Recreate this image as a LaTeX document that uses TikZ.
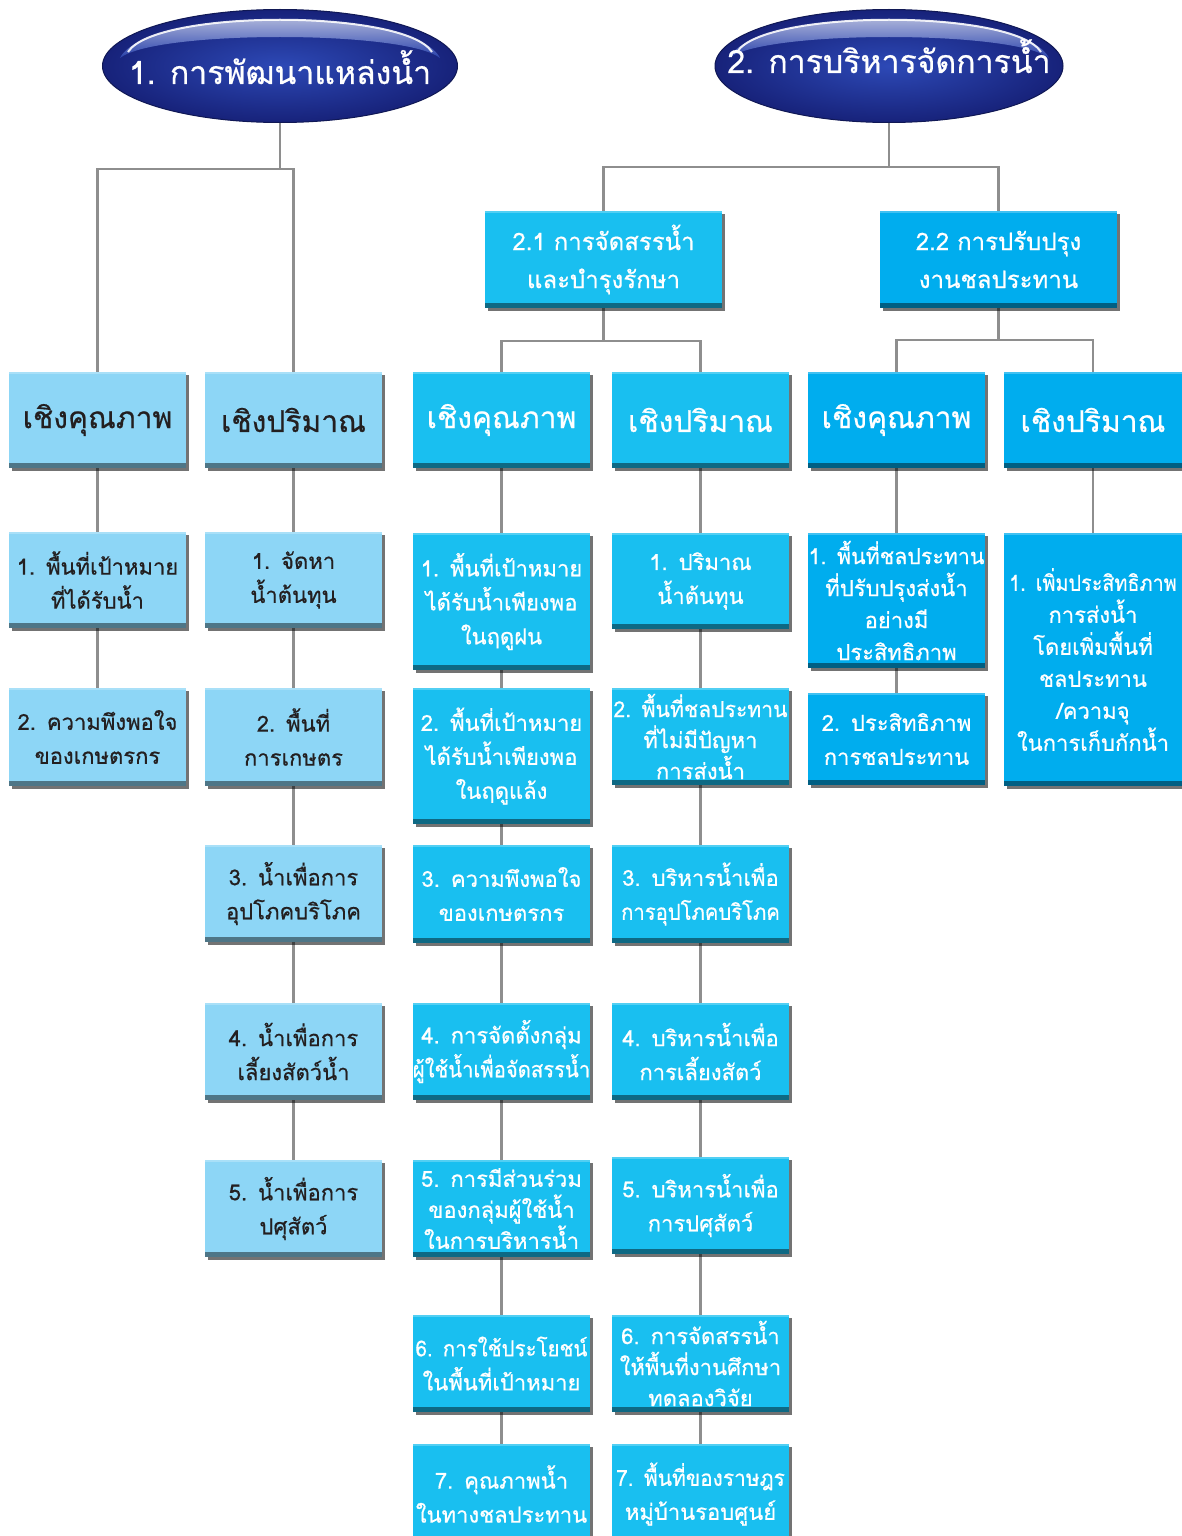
\documentclass[tikz,border=0pt]{standalone}
\usepackage{fontspec}
\newfontfamily\thaifont[Script=Thai,FakeBold=0.6]{Loma}
\usetikzlibrary{shadows,shapes.geometric}
\definecolor{lb}{HTML}{8DD6F6}
\definecolor{mb}{HTML}{19BFF0}
\definecolor{db}{HTML}{00ADEE}
\definecolor{ln}{HTML}{8E8E8E}
\definecolor{dtx}{HTML}{231F20}
\definecolor{ellin}{HTML}{2D49B6}
\definecolor{ellout}{HTML}{17227A}
\newcommand\sq[2]{\makebox[\linewidth][c]{\scalebox{#1}[1]{#2}}}
\pgfdeclarelayer{back}
\pgfsetlayers{back,main}
\tikzset{
  conn/.style={draw=ln, line width=2.6pt},
  box/.style={anchor=north west, inner sep=0pt, outer sep=0pt, align=center,
    drop shadow={shadow xshift=3pt, shadow yshift=-3pt, opacity=.55, fill=black},
    font=\thaifont\fontsize{22}{34}\selectfont},
  bevel/.style={path picture={
    \fill[#1] ([yshift=5pt]path picture bounding box.south west) rectangle (path picture bounding box.south east);
    \fill[white,opacity=.25] (path picture bounding box.north west) rectangle ([yshift=-2pt]path picture bounding box.north east);}},
  lbox/.style={box, fill=lb, text=dtx, bevel=lb!55!black},
  mbox/.style={box, fill=mb, text=white, bevel=mb!55!black},
  dbox/.style={box, fill=db, text=white, bevel=db!55!black},
  cat/.style={font=\thaifont\fontsize{30}{36}\selectfont, minimum width=177pt, text width=177pt, minimum height=96pt},
  ch/.style={minimum width=177pt, text width=177pt},
  tight/.style={font=\thaifont\fontsize{22}{31}\selectfont},
  big/.style={ellipse, inner sep=0pt, draw=ellout!70!black, line width=1pt,
    inner color=ellin, outer color=ellout, text=white,
    font=\thaifont\fontsize{32}{36}\selectfont,
    path picture={\begin{scope}[shift={(path picture bounding box.center)}]
      \shade[top color=white, bottom color=ellin, opacity=.8]
        (-160,-8) .. controls (-135,-59) and (135,-59) .. (160,-8)
        .. controls (125,-36) and (-125,-36) .. (-160,-8) -- cycle;
      \draw[white, line width=2pt, opacity=.9]
        (-152,-14) .. controls (-125,-57) and (125,-57) .. (152,-14);
    \end{scope}}},
}
\begin{document}
\begin{tikzpicture}[x=1pt,y=-1pt]
\useasboundingbox (0,0) rectangle (1182,1536);
\clip (0,0) rectangle (1182,1536);

% top ellipses
\node[big, minimum width=355pt, minimum height=113pt] (e1) at (280,66) {\makebox[0pt]{\raisebox{-18pt}[0pt][0pt]{1. การพัฒนาแหล่งน้ำ}}};
\node[big, minimum width=348pt, minimum height=113pt] (e2) at (889,66) {\makebox[0pt]{\raisebox{-7pt}[0pt][0pt]{2. การบริหารจัดการน้ำ}}};

% level 2 boxes
\node[mbox, minimum width=237pt, text width=237pt, minimum height=97pt, font=\thaifont\fontsize{24}{38}\selectfont] (b21) at (485,211) {2.1 การจัดสรรน้ำ\\และบำรุงรักษา};
\node[dbox, minimum width=237pt, text width=237pt, minimum height=97pt, font=\thaifont\fontsize{24}{38}\selectfont] (b22) at (880,211) {2.2 การปรับปรุง\\งานชลประทาน};

% category boxes
\node[lbox, cat] (l1) at (9,372) {เชิงคุณภาพ};
\node[lbox, cat] (l2) at (205,372) {เชิงปริมาณ};
\node[mbox, cat] (m1) at (413,372) {เชิงคุณภาพ};
\node[mbox, cat] (m2) at (612,372) {เชิงปริมาณ};
\node[dbox, cat] (r1) at (808,372) {เชิงคุณภาพ};
\node[dbox, cat, minimum width=178pt, text width=178pt] (r2) at (1004,372) {เชิงปริมาณ};

% column L1
\node[lbox, ch, minimum height=96pt] (l1a) at (9,532) {1. พื้นที่เป้าหมาย\\ที่ได้รับน้ำ};
\node[lbox, ch, minimum height=98pt] (l1b) at (9,688) {2. ความพึงพอใจ\\ของเกษตรกร};

% column L2
\node[lbox, ch, minimum height=96pt] (l2a) at (205,532) {1. จัดหา\\น้ำต้นทุน};
\node[lbox, ch, minimum height=98pt] (l2b) at (205,688) {2. พื้นที่\\การเกษตร};
\node[lbox, ch, minimum height=97pt] (l2c) at (205,845) {3. น้ำเพื่อการ\\อุปโภคบริโภค};
\node[lbox, ch, minimum height=97pt] (l2d) at (205,1003) {4. น้ำเพื่อการ\\เลี้ยงสัตว์น้ำ};
\node[lbox, ch, minimum height=97pt] (l2e) at (205,1160) {5. น้ำเพื่อการ\\ปศุสัตว์};

% column M1
\node[mbox, ch, minimum height=137pt] (m1a) at (413,533) {1. พื้นที่เป้าหมาย\\ได้รับน้ำเพียงพอ\\ในฤดูฝน};
\node[mbox, ch, minimum height=136pt] (m1b) at (413,688) {2. พื้นที่เป้าหมาย\\ได้รับน้ำเพียงพอ\\ในฤดูแล้ง};
\node[mbox, ch, minimum height=98pt] (m1c) at (413,845) {3. ความพึงพอใจ\\ของเกษตรกร};
\node[mbox, ch, minimum height=97pt] (m1d) at (413,1003) {4. การจัดตั้งกลุ่ม\\\sq{0.92}{ผู้ใช้น้ำเพื่อจัดสรรน้ำ}};
\node[mbox, ch, tight, minimum height=97pt] (m1e) at (413,1160) {5. การมีส่วนร่วม\\ของกลุ่มผู้ใช้น้ำ\\ในการบริหารน้ำ};
\node[mbox, ch, minimum height=97pt] (m1f) at (413,1315) {\sq{0.93}{6. การใช้ประโยชน์}\\ในพื้นที่เป้าหมาย};
\node[mbox, ch, minimum height=100pt] (m1g) at (413,1444) {7. คุณภาพน้ำ\\ในทางชลประทาน};

% column M2
\node[mbox, ch, minimum height=96pt] (m2a) at (612,533) {1. ปริมาณ\\น้ำต้นทุน};
\node[mbox, ch, tight, minimum height=97pt] (m2b) at (612,688) {\sq{0.96}{2. พื้นที่ชลประทาน}\\ที่ไม่มีปัญหา\\การส่งน้ำ};
\node[mbox, ch, minimum height=98pt] (m2c) at (612,845) {3. บริหารน้ำเพื่อ\\\sq{0.92}{การอุปโภคบริโภค}};
\node[mbox, ch, minimum height=97pt] (m2d) at (612,1003) {4. บริหารน้ำเพื่อ\\การเลี้ยงสัตว์};
\node[mbox, ch, minimum height=97pt] (m2e) at (612,1157) {5. บริหารน้ำเพื่อ\\การปศุสัตว์};
\node[mbox, ch, tight, minimum height=97pt] (m2f) at (612,1315) {6. การจัดสรรน้ำ\\ให้พื้นที่งานศึกษา\\ทดลองวิจัย};
\node[mbox, ch, minimum height=100pt] (m2g) at (612,1444) {\sq{0.95}{7. พื้นที่ของราษฎร}\\หมู่บ้านรอบศูนย์};

% column R1
\node[dbox, ch, font=\thaifont\fontsize{22}{32}\selectfont, minimum height=135pt] (r1a) at (808,533) {\sq{0.97}{1. พื้นที่ชลประทาน}\\ที่ปรับปรุงส่งน้ำ\\อย่างมี\\ประสิทธิภาพ};
\node[dbox, ch, minimum height=92pt] (r1b) at (808,693) {2. ประสิทธิภาพ\\การชลประทาน};

% column R2
\node[dbox, minimum width=178pt, text width=178pt, font=\thaifont\fontsize{22}{32}\selectfont, minimum height=253pt] (r2a) at (1004,533) {\sq{0.9}{1. เพิ่มประสิทธิภาพ}\\การส่งน้ำ\\โดยเพิ่มพื้นที่\\ชลประทาน\\/ความจุ\\ในการเก็บกักน้ำ};

\begin{pgfonlayer}{back}
\fill[white] (0,0) rectangle (1182,1536);
\coordinate (j1) at (280,169);
\coordinate (j2) at (889,167);
\coordinate (j3) at (603.5,341);
\coordinate (j4) at (998.5,340);
\draw[conn] (e1.center) -- (j1);
\draw[conn] (j1) -| (l1.north);
\draw[conn] (j1) -| (l2.north);
\draw[conn] (e2.center) -- (j2);
\draw[conn] (j2) -| (b21.north);
\draw[conn] (j2) -| (b22.north);
\draw[conn] (b21.south) -- (j3);
\draw[conn] (j3) -| (m1.north);
\draw[conn] (j3) -| (m2.north);
\draw[conn] (b22.south) -- (j4);
\draw[conn] (j4) -| (r1.north);
\draw[conn] (j4) -| (r2.north);
\foreach \a/\b in {l1/l1a,l1a/l1b,
  l2/l2a,l2a/l2b,l2b/l2c,l2c/l2d,l2d/l2e,
  m1/m1a,m1a/m1b,m1b/m1c,m1c/m1d,m1d/m1e,m1e/m1f,m1f/m1g,
  m2/m2a,m2a/m2b,m2b/m2c,m2c/m2d,m2d/m2e,m2e/m2f,m2f/m2g,
  r1/r1a,r1a/r1b,r2/r2a}
  \draw[conn] (\a.south) -- (\b.north);
\end{pgfonlayer}
\end{tikzpicture}
\end{document}
